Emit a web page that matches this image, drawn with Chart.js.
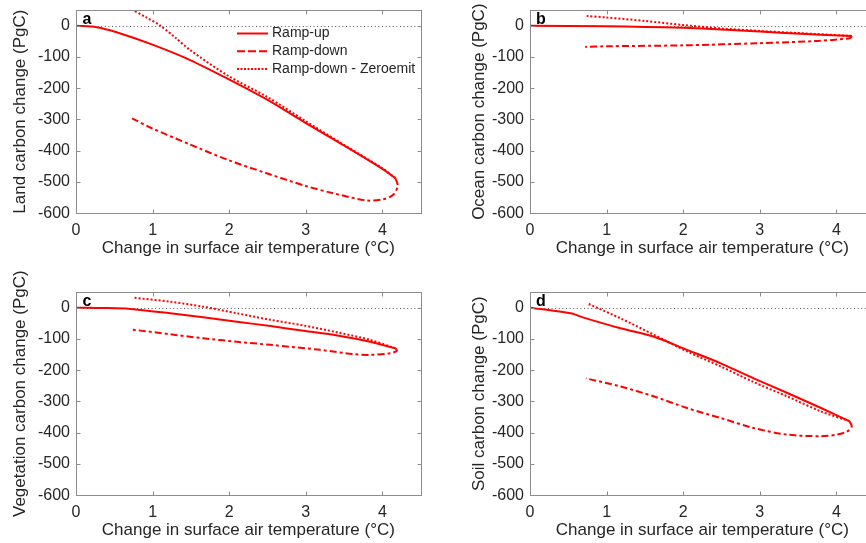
<!DOCTYPE html>
<html>
<head>
<meta charset="utf-8">
<title>Carbon change vs warming</title>
<script src="https://cdn.jsdelivr.net/npm/chart.js"></script>
<style>
    body { margin: 0; background: #fff; }
    #wrap { position: relative; width: 866px; height: 543px; overflow: hidden; }
    #wrap canvas { position: absolute; }
</style>
</head>
<body>
<div id="wrap">
    <canvas id="panelA" width="433" height="292" style="left:0px;top:-20px"></canvas>
    <canvas id="panelB" width="433" height="292" style="left:454px;top:-20px"></canvas>
    <canvas id="panelC" width="433" height="292" style="left:0px;top:262px"></canvas>
    <canvas id="panelD" width="433" height="292" style="left:454px;top:262px"></canvas>
</div>

<script>
// series labels
const seriesNames = ['Ramp-up', 'Ramp-down', 'Ramp-down - Zeroemit'];

// axis ticks
const xTicks = [0, 1, 2, 3, 4];
const yTicks = [-600, -500, -400, -300, -200, -100, 0];

// [temperature change, carbon change]
const landUp = [[0,0],[0.27,-5],[0.53,-21],[0.99,-60],[1.49,-110],[1.99,-171],[2.49,-236],[2.99,-310],[3.49,-382],[4.0,-458],[4.17,-488]];
const landDown = [[4.17,-488],[4.2,-512],[4.14,-541],[4.01,-555],[3.8,-559],[3.36,-536],[2.99,-512],[2.49,-472],[1.99,-430],[1.49,-380],[0.99,-328],[0.73,-296]];
const landZero = [[4.17,-488],[4.0,-456],[3.49,-380],[2.99,-304],[2.49,-227],[1.99,-161],[1.49,-78],[1.3,-39],[1.10,0],[0.92,26],[0.73,52]];

const oceanUp = [[0,0],[1,-2],[1.5,-4],[2,-7],[2.5,-12],[3,-19],[3.53,-26],[4.2,-33]];
const oceanDown = [[4.2,-33],[4.19,-38],[4.16,-41],[3.75,-49],[3.0,-56],[2.0,-63],[1.0,-66],[0.72,-68]];
const oceanZero = [[4.2,-33],[3.53,-24],[3.0,-17],[2.5,-9],[2.0,2],[1.5,15],[1.0,26],[0.74,31]];

const vegUp = [[0,0],[0.35,-1],[0.71,-4],[1.23,-18],[1.66,-31],[2.10,-45],[2.54,-59],[2.97,-74],[3.41,-89],[3.84,-109],[4.17,-130]];
const vegDown = [[4.17,-130],[4.19,-138],[4.1,-146],[3.84,-151],[3.63,-149],[3.19,-135],[2.54,-119],[2.10,-109],[1.66,-98],[1.23,-85],[0.73,-70]];
const vegZero = [[4.17,-130],[3.84,-103],[3.41,-79],[2.97,-57],[2.54,-39],[2.10,-18],[1.66,3],[1.23,19],[0.74,32]];

const soilUp = [[0,0],[0.53,-18],[0.70,-32],[1.18,-66],[1.62,-93],[2.05,-135],[2.49,-178],[2.92,-226],[3.36,-273],[3.80,-321],[4.17,-363]];
const soilDown = [[4.17,-363],[4.2,-380],[4.14,-396],[4.01,-406],[3.8,-411],[3.36,-406],[2.92,-385],[2.49,-353],[2.05,-321],[1.62,-284],[1.18,-252],[0.73,-226]];
const soilZero = [[4.17,-363],[3.80,-332],[3.36,-284],[2.92,-238],[2.49,-188],[2.05,-140],[1.62,-87],[1.18,-34],[0.745,14]];

const FONT = "'Liberation Sans', Arial, Helvetica, sans-serif";
const TEXT = '#262626';
const RED = '#ff0000';
const legendDash = [[], [8, 3], [2, 1.5]];

// MATLAB-ish box, inward ticks, zero line, panel letter, y title and legend
const axesDecor = {
    id: 'axesDecor',
    beforeDatasetsDraw(chart) {
        const { ctx, chartArea: a, scales: { y } } = chart;
        const y0 = Math.round(y.getPixelForValue(0)) + 0.5;
        ctx.save();
        ctx.strokeStyle = '#555';
        ctx.lineWidth = 1;
        ctx.setLineDash([1, 2.6]);
        ctx.beginPath();
        ctx.moveTo(a.left, y0);
        ctx.lineTo(a.right, y0);
        ctx.stroke();
        ctx.restore();
    },
    afterDraw(chart, args, opts) {
        const { ctx, chartArea: a, scales: { x, y } } = chart;
        ctx.save();
        ctx.strokeStyle = '#8c8c8c';
        ctx.lineWidth = 1;
        const L = Math.round(a.left) + 0.5, R = Math.round(a.right) + 0.5;
        const T = Math.round(a.top) + 0.5, B = Math.round(a.bottom) + 0.5;
        ctx.strokeRect(L, T, R - L, B - T);
        ctx.beginPath();
        xTicks.forEach(v => {
            const px = Math.round(x.getPixelForValue(v)) + 0.5;
            ctx.moveTo(px, B); ctx.lineTo(px, B - 4);
            ctx.moveTo(px, T); ctx.lineTo(px, T + 4);
        });
        yTicks.forEach(v => {
            const py = Math.round(y.getPixelForValue(v)) + 0.5;
            ctx.moveTo(L, py); ctx.lineTo(L + 4, py);
            ctx.moveTo(R, py); ctx.lineTo(R - 4, py);
        });
        ctx.stroke();

        // panel letter
        ctx.fillStyle = '#000';
        ctx.font = 'bold 16px ' + FONT;
        ctx.textAlign = 'center';
        ctx.textBaseline = 'alphabetic';
        ctx.fillText(opts.letter, a.left + 11, a.top + 13.5);

        // y axis title
        ctx.fillStyle = TEXT;
        ctx.font = '17px ' + FONT;
        ctx.textBaseline = 'middle';
        ctx.translate(opts.yTitleX, (a.top + a.bottom) / 2);
        ctx.rotate(-Math.PI / 2);
        ctx.fillText(opts.yTitle, 0, 0);
        ctx.restore();

        if (opts.legend) {
            ctx.save();
            ctx.font = '14px ' + FONT;
            ctx.textBaseline = 'middle';
            ctx.textAlign = 'left';
            const lx = a.left + 161, ty = a.top + 23.5;
            chart.data.datasets.forEach((ds, i) => {
                const ly = ty + i * 17.8;
                ctx.strokeStyle = RED;
                ctx.lineWidth = 2;
                ctx.setLineDash(legendDash[i]);
                ctx.beginPath();
                ctx.moveTo(lx, ly);
                ctx.lineTo(lx + 31, ly);
                ctx.stroke();
                ctx.fillStyle = TEXT;
                ctx.fillText(ds.label, lx + 35, ly);
            });
            ctx.restore();
        }
    }
};

function toPoints(pairs) {
    return pairs.map(p => ({ x: p[0], y: p[1] }));
}

function makePanel(id, up, down, zero, letter, yTitle, yTitleX, legend) {
    const line = {
        showLine: true,
        pointRadius: 0,
        borderColor: RED,
        borderWidth: 2,
        tension: 0.3,
        fill: false
    };
    new Chart(document.getElementById(id), {
        type: 'scatter',
        data: {
            datasets: [
                { ...line, label: seriesNames[0], data: toPoints(up) },
                { ...line, label: seriesNames[1], data: toPoints(down), borderDash: [7, 3, 3, 3] },
                { ...line, label: seriesNames[2], data: toPoints(zero), borderDash: [2, 2] }
            ]
        },
        options: {
            responsive: false,
            animation: false,
            layout: { padding: { top: 30, right: 12.3, left: 0, bottom: 0 } },
            plugins: {
                legend: { display: false },
                tooltip: { enabled: false },
                axesDecor: { letter, yTitle, yTitleX, legend }
            },
            scales: {
                x: {
                    type: 'linear',
                    min: 0, max: 4.5,
                    afterBuildTicks: s => { s.ticks = xTicks.map(v => ({ value: v })); },
                    afterFit: s => { s.height = 58.7; },
                    grid: { display: false, drawTicks: false },
                    border: { display: false },
                    ticks: { padding: 8, color: TEXT, font: { family: FONT, size: 16 } },
                    title: {
                        display: true,
                        text: 'Change in surface air temperature (°C)',
                        color: TEXT,
                        font: { family: FONT, size: 17 },
                        padding: { top: 0, bottom: 13.8 }
                    }
                },
                y: {
                    type: 'linear',
                    min: -600, max: 50,
                    afterBuildTicks: s => { s.ticks = yTicks.map(v => ({ value: v })); },
                    afterFit: s => { s.width = 76; },
                    grid: { display: false, drawTicks: false },
                    border: { display: false },
                    ticks: { padding: 6, color: TEXT, font: { family: FONT, size: 16 } }
                }
            }
        },
        plugins: [axesDecor]
    });
}

makePanel('panelA', landUp, landDown, landZero, 'a', 'Land carbon change (PgC)', 20, true);
makePanel('panelB', oceanUp, oceanDown, oceanZero, 'b', 'Ocean carbon change (PgC)', 25.8, false);
makePanel('panelC', vegUp, vegDown, vegZero, 'c', 'Vegetation carbon change (PgC)', 20, false);
makePanel('panelD', soilUp, soilDown, soilZero, 'd', 'Soil carbon change (PgC)', 25.8, false);
</script>
</body>
</html>
